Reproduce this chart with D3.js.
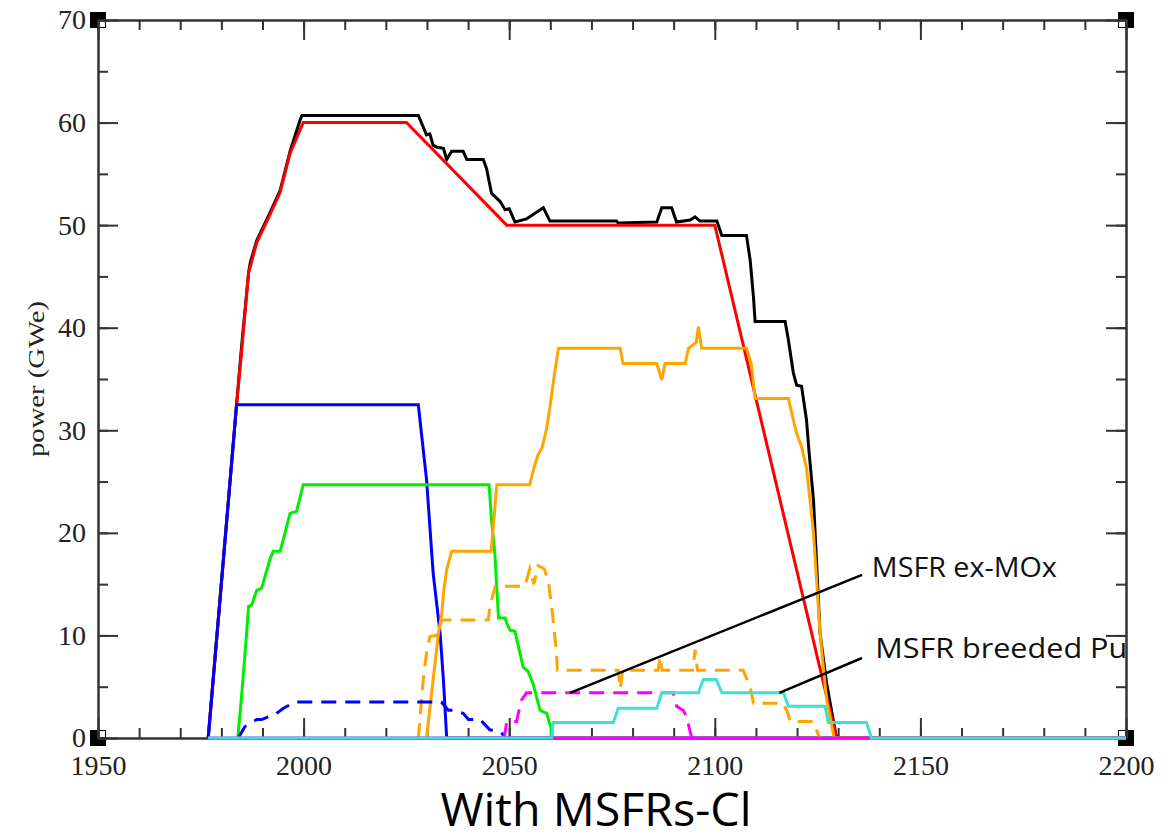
<!DOCTYPE html>
<html>
<head>
<meta charset="utf-8">
<script src="https://cdn.jsdelivr.net/npm/d3@7"></script>
<style>
  body { margin: 0; background: #fff; }
  .axis-line path, .axis-line line { stroke: #333; stroke-width: 2; }
  .tick-text { font-family: 'Liberation Serif', serif; font-size: 28px; fill: #222; }
  .series { fill: none; stroke-width: 3; stroke-linejoin: miter; }
</style>
</head>
<body>
<div id="chart"></div>
<script>
// tick labels
const xMajorTicks = [1950, 2000, 2050, 2100, 2150, 2200];
const yMajorTicks = [0, 10, 20, 30, 40, 50, 60, 70];

// series, [year, GWe]
const totalPower = [[1976.8,0],[1983.7,32.5],[1984.9,38.1],[1986.6,45.3],[1987,46.3],[1988.6,48.5],[1991.8,51.2],[1994.3,53.4],[1996.7,57.2],[1999.1,60.2],[1999.6,60.7],[2027.9,60.7],[2029.9,58.8],[2030.7,58.9],[2031.5,57.8],[2032.4,57.6],[2034,57.5],[2034.8,56.4],[2036,57.2],[2038.8,57.2],[2039.7,56.4],[2043.7,56.4],[2044.5,55.5],[2045.7,53.1],[2047.8,52.3],[2049,51.5],[2050,51.6],[2051.4,50.3],[2054.2,50.6],[2058.3,51.7],[2059.9,50.4],[2076.1,50.4],[2076.5,50.2],[2085.9,50.3],[2087.1,51.7],[2089.5,51.7],[2090.7,50.3],[2094,50.5],[2095.2,50.8],[2096.4,50.4],[2100.5,50.4],[2101.7,49],[2107.7,49],[2108.6,46.6],[2109.4,43],[2109.8,40.6],[2117.1,40.6],[2117.9,38.8],[2119.1,35.6],[2119.9,34.4],[2121.1,34.3],[2122.3,31],[2122.9,28],[2124,23.2],[2124.8,16.7],[2125.6,10.2],[2127.2,5.3],[2129.6,0],[2200,0]];
const pwrPower = [[1976.8,0],[1983.7,32.5],[1985,38],[1986.6,45.3],[1988.6,48.3],[1991.8,51],[1994.3,53.2],[1996.7,57],[1999.9,60],[2025,60],[2049.4,50],[2100,50],[2129.6,0],[2200,0]];
const uoxPower = [[1976.8,0],[1983.7,32.5],[2027.9,32.5],[2028.3,31],[2029.9,25.2],[2031.5,16.1],[2033.2,10.2],[2034,5.7],[2034.8,0],[2200,0]];
const moxPower = [[1984,0],[1984.9,4],[1986.2,10.5],[1986.6,12.8],[1987.4,13],[1988.6,14.4],[1989.8,14.6],[1991.8,17.4],[1992.6,18.2],[1994.3,18.2],[1996.7,21.9],[1998.3,22.1],[1999.9,24.7],[2045.1,24.7],[2045.7,21.3],[2046.5,18],[2047.4,11.7],[2049,11.7],[2049.4,11.2],[2050.2,10.5],[2051.4,10.4],[2053.4,6.9],[2054.6,6.5],[2055.8,5.3],[2057.5,2.7],[2059.1,2.4],[2060.3,0.8],[2060.5,0],[2200,0]];
const eprPower = [[2029.9,0],[2031.5,5.7],[2032.8,10.2],[2033.6,12.1],[2034,14.1],[2034.8,16.4],[2036,18.2],[2045.6,18.2],[2047,24.7],[2055,24.7],[2056,26.3],[2057,27.6],[2058,28.3],[2059,30],[2060,32.5],[2061,35.5],[2062,38],[2077,38],[2077.7,36.5],[2085.9,36.5],[2087.1,34.9],[2087.9,36.5],[2092.8,36.5],[2093.6,38],[2095.5,38.6],[2096,40.1],[2096.8,38],[2107.7,38],[2108.9,36.4],[2109.8,33.1],[2117.9,33.1],[2119.1,31],[2119.9,29.7],[2121.1,28.4],[2122.3,26.3],[2124,20],[2124.8,15.1],[2125.6,10.2],[2126.4,6.9],[2127.2,3.7],[2128.8,0.5],[2129,0],[2200,0]];
const eprMoxPower = [[2027.9,0],[2029.1,5.7],[2029.9,8.3],[2030.7,9.9],[2032.3,10],[2033.6,11.5],[2044.9,11.5],[2045.3,12.8],[2046.6,14.8],[2053.8,14.8],[2055,16.5],[2056,15],[2057,16.8],[2058.5,16.5],[2059.5,15.4],[2060.7,11.5],[2061.5,8.3],[2061.7,6.6],[2076.5,6.6],[2077,4.8],[2077.6,6.6],[2086.2,6.6],[2086.7,7.9],[2087.2,6.6],[2094.6,6.6],[2095.2,8.6],[2095.8,6.6],[2106.9,6.6],[2108.6,5],[2109.4,3.4],[2116.6,3.4],[2117.8,2.4],[2118.3,1.6],[2124,1.6],[2125,0.5],[2125.5,0]];
const uoxMoxPower = [[1984.1,0],[1985.7,1.1],[1988.6,1.8],[1989.8,1.8],[1993.4,2.4],[1995.1,2.9],[1997.9,3.5],[2033.5,3.5],[2035.2,2.7],[2036.4,2.7],[2038.8,2.4],[2040.1,1.8],[2042.9,1.8],[2045.3,0.8],[2047.8,0.6],[2048.6,0.3],[2049,0]];
const msfrExMoxPower = [[2048.8,0],[2049.4,1.6],[2051.8,1.6],[2052.2,2.4],[2053,3.7],[2054.2,4.4],[2089.9,4.4],[2090.7,3.1],[2092.3,2.7],[2093.1,2.1],[2093.9,0.8],[2094.4,0]];
const msfrZeroPower = [[1976.8,0],[2200,0]];
const msfrBredPuPower = [[1976.8,0],[2060.3,0],[2060.7,1.5],[2075.3,1.5],[2076.5,2.9],[2085.9,2.9],[2087.1,4.4],[2096,4.4],[2097.2,5.7],[2100.4,5.7],[2101.7,4.4],[2116.7,4.4],[2117.9,3.1],[2126.8,3.1],[2127.6,1.5],[2136.9,1.5],[2138.1,0],[2200,0]];

// annotations: text anchor and leader line [from, to]
const annotations = [
  {text: 'MSFR ex-MOx', at: [2138.2, 15.7], from: [2064.8, 4.4], to: [2135.8, 15.9], len: 185},
  {text: 'MSFR breeded Pu', at: [2139, 7.8], from: [2115.7, 4.4], to: [2135.8, 7.8], len: 252}
];

class PowerChart {
  constructor(props) {
    const {el, width, height} = props;
    if (!el) {
      throw new Error('Root element could not be found !!!');
    }
    this.el = el;
    this.width = width;
    this.height = height;
    this.plot = {left: 98, right: 1126, top: 20, bottom: 738};
    this.xScale = d3.scaleLinear().domain([1950, 2200]).range([this.plot.left, this.plot.right]);
    this.yScale = d3.scaleLinear().domain([0, 70]).range([this.plot.bottom, this.plot.top]);
    this.createGraph();
    this.renderGraph();
  }
  createGraph() {
    this.svg = d3.select(this.el).append('svg').attr('width', this.width).attr('height', this.height).attr('class', 'line-graph-svg');
    this.svg.append('rect').attr('width', this.width).attr('height', this.height).attr('fill', '#fff');
  }
  _renderXAxis() {
    const {svg, xScale, plot} = this;
    const minor = d3.range(1950, 2201, 10);
    svg.append('g').attr('class', 'axis-line').attr('transform', `translate(0,${plot.bottom})`)
      .call(d3.axisBottom(xScale).tickValues(minor).tickSize(-10).tickSizeOuter(0).tickFormat(''));
    const gx = svg.append('g').attr('class', 'axis-line').attr('transform', `translate(0,${plot.bottom})`)
      .call(d3.axisBottom(xScale).tickValues(xMajorTicks).tickSize(-20).tickSizeOuter(0).tickPadding(17).tickFormat(d3.format('d')));
    gx.selectAll('text').attr('class', 'tick-text');
    svg.append('g').attr('class', 'axis-line').attr('transform', `translate(0,${plot.top})`)
      .call(d3.axisTop(xScale).tickValues(minor).tickSize(-10).tickSizeOuter(0).tickFormat(''));
    svg.append('g').attr('class', 'axis-line').attr('transform', `translate(0,${plot.top})`)
      .call(d3.axisTop(xScale).tickValues(xMajorTicks).tickSize(-20).tickSizeOuter(0).tickFormat(''));
  }
  _renderYAxis() {
    const {svg, yScale, plot} = this;
    const minor = d3.range(0, 71, 5);
    svg.append('g').attr('class', 'axis-line').attr('transform', `translate(${plot.left},0)`)
      .call(d3.axisLeft(yScale).tickValues(minor).tickSize(-10).tickSizeOuter(0).tickFormat(''));
    const gy = svg.append('g').attr('class', 'axis-line').attr('transform', `translate(${plot.left},0)`)
      .call(d3.axisLeft(yScale).tickValues(yMajorTicks).tickSize(-20).tickSizeOuter(0).tickPadding(12));
    gy.selectAll('text').attr('class', 'tick-text');
    svg.append('g').attr('class', 'axis-line').attr('transform', `translate(${plot.right},0)`)
      .call(d3.axisRight(yScale).tickValues(minor).tickSize(-10).tickSizeOuter(0).tickFormat(''));
    svg.append('g').attr('class', 'axis-line').attr('transform', `translate(${plot.right},0)`)
      .call(d3.axisRight(yScale).tickValues(yMajorTicks).tickSize(-20).tickSizeOuter(0).tickFormat(''));
    svg.append('text').attr('class', 'y-label')
      .attr('transform', `translate(44,${yScale(35)}) rotate(-90)`)
      .attr('text-anchor', 'middle').attr('font-family', 'Liberation Serif, serif').attr('font-size', 24).attr('fill', '#222')
      .attr('textLength', 156).attr('lengthAdjust', 'spacingAndGlyphs')
      .text('power (GWe)');
  }
  _renderCorners() {
    const {svg, plot} = this;
    const corners = [[plot.left, plot.top, 1, 1], [plot.right, plot.top, -1, 1], [plot.left, plot.bottom, 1, -1], [plot.right, plot.bottom, -1, -1]];
    corners.forEach(([x, y, sx, sy]) => {
      svg.append('rect').attr('x', x - 8).attr('y', y - 8).attr('width', 16).attr('height', 16).attr('fill', '#000');
      svg.append('rect').attr('x', sx > 0 ? x + 1 : x - 7).attr('y', sy > 0 ? y + 1 : y - 7).attr('width', 6).attr('height', 6).attr('fill', '#fff');
    });
  }
  renderGraph() {
    const {svg, xScale, yScale} = this;
    const lineFun = d3.line().x(d => xScale(d[0])).y(d => yScale(d[1]));
    const series = [
      {data: totalPower, color: '#000'},
      {data: pwrPower, color: '#ff0000'},
      {data: uoxPower, color: '#0000ff'},
      {data: moxPower, color: '#00ee00'},
      {data: eprPower, color: '#ffa500'},
      {data: eprMoxPower, color: '#ffa500', dash: '15,9'},
      {data: uoxMoxPower, color: '#0000ff', dash: '15,9'},
      {data: msfrExMoxPower, color: '#ff00ff', dash: '15,9'},
      {data: msfrZeroPower, color: '#ff00ff'},
      {data: msfrBredPuPower, color: '#40e0d0'}
    ];
    this._renderCorners();
    this._renderXAxis();
    this._renderYAxis();
    series.forEach(s => {
      svg.append('path').attr('class', 'series').attr('d', lineFun(s.data))
        .attr('stroke', s.color).attr('stroke-dasharray', s.dash || null);
    });

    // LABELS
    annotations.forEach(a => {
      svg.append('line').attr('x1', xScale(a.from[0])).attr('y1', yScale(a.from[1]))
        .attr('x2', xScale(a.to[0])).attr('y2', yScale(a.to[1])).attr('stroke', '#000').attr('stroke-width', 2.5);
      svg.append('text').attr('x', xScale(a.at[0])).attr('y', yScale(a.at[1]))
        .attr('font-family', 'Open Sans, sans-serif').attr('font-size', 27).attr('fill', '#111')
        .attr('textLength', a.len).attr('lengthAdjust', 'spacingAndGlyphs').text(a.text);
    });
    svg.append('text').attr('x', 596).attr('y', 826).attr('text-anchor', 'middle')
      .attr('font-family', 'Open Sans, sans-serif').attr('font-size', 45).attr('fill', '#000')
      .attr('textLength', 311).attr('lengthAdjust', 'spacingAndGlyphs').text('With MSFRs-Cl');
  }
}

new PowerChart({el: document.getElementById('chart'), width: 1176, height: 836});
</script>
</body>
</html>
